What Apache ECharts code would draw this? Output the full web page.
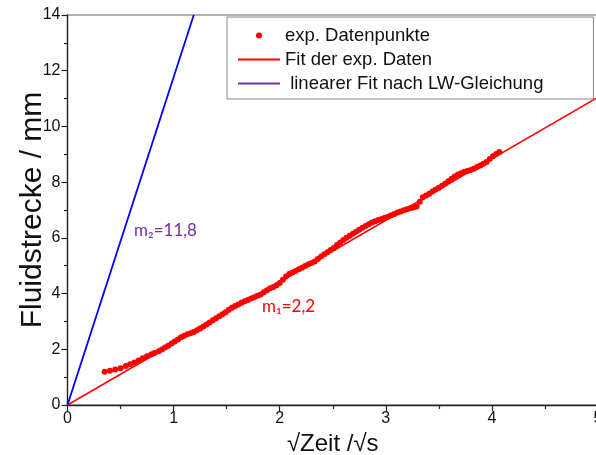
<!DOCTYPE html>
<html>
<head>
<meta charset="utf-8">
<script src="https://cdn.jsdelivr.net/npm/echarts@6/dist/echarts.min.js"></script>
<style>
  html, body { margin: 0; padding: 0; background: #fff; }
  #chart { width: 596px; height: 455px; }
</style>
</head>
<body>
<div id="chart"></div>
<script>
// measured points: sqrt(time) / sqrt(s) and fluid distance / mm
var zeitWurzel = [0.35, 0.40, 0.45, 0.50, 0.55, 0.59, 0.63, 0.67, 0.71, 0.75, 0.79, 0.82, 0.86, 0.89, 0.92, 0.95, 0.98,
  1.01, 1.04, 1.07, 1.10, 1.13, 1.16, 1.19, 1.22, 1.25, 1.28, 1.31, 1.34, 1.37, 1.40, 1.43, 1.46, 1.49,
  1.52, 1.55, 1.58, 1.61, 1.64, 1.67, 1.70, 1.73, 1.76, 1.79, 1.82, 1.85, 1.88, 1.91, 1.94, 1.97,
  2.00, 2.03, 2.06, 2.09, 2.12, 2.15, 2.18, 2.21, 2.24, 2.27, 2.30, 2.33, 2.36, 2.39, 2.42, 2.45, 2.48,
  2.51, 2.54, 2.57, 2.60, 2.63, 2.66, 2.69, 2.72, 2.75, 2.78, 2.81, 2.84, 2.87, 2.90, 2.93, 2.96, 2.99,
  3.02, 3.05, 3.08, 3.11, 3.14, 3.17, 3.20, 3.23, 3.26, 3.29, 3.32, 3.35, 3.38, 3.41, 3.44, 3.47,
  3.50, 3.53, 3.56, 3.59, 3.62, 3.65, 3.68, 3.71, 3.74, 3.77, 3.80, 3.83, 3.86, 3.89, 3.92, 3.95, 3.98,
  4.01, 4.04, 4.07];
var strecke = [1.19, 1.23, 1.27, 1.32, 1.40, 1.46, 1.53, 1.60, 1.68, 1.75, 1.82, 1.87, 1.93, 1.99, 2.06, 2.13, 2.21,
  2.28, 2.35, 2.43, 2.49, 2.54, 2.58, 2.62, 2.68, 2.75, 2.82, 2.89, 2.96, 3.04, 3.11, 3.19, 3.26, 3.33,
  3.42, 3.49, 3.55, 3.61, 3.67, 3.72, 3.77, 3.82, 3.87, 3.92, 3.97, 4.05, 4.12, 4.19, 4.24, 4.30,
  4.38, 4.50, 4.61, 4.70, 4.76, 4.81, 4.87, 4.93, 4.99, 5.05, 5.10, 5.15, 5.24, 5.33, 5.41, 5.48, 5.56,
  5.64, 5.74, 5.83, 5.92, 6.00, 6.08, 6.15, 6.22, 6.29, 6.36, 6.43, 6.49, 6.55, 6.60, 6.64, 6.68, 6.72,
  6.76, 6.81, 6.86, 6.91, 6.95, 6.99, 7.03, 7.06, 7.09, 7.13, 7.30, 7.46, 7.52, 7.58, 7.66, 7.74,
  7.80, 7.87, 7.94, 8.03, 8.12, 8.20, 8.27, 8.32, 8.37, 8.40, 8.44, 8.48, 8.54, 8.60, 8.66, 8.72, 8.83,
  8.93, 9.01, 9.08];

// fit lines (end points)
var fitX = [0, 5];
var fitY = [0, 11.05];
var lwX = [0, 1.19];
var lwY = [0, 14];

var nameData = 'exp. Datenpunkte';
var nameFit = 'Fit der exp. Daten';
var nameLW = ' linearer Fit nach LW-Gleichung';

function pairs(xs, ys) {
  var out = [];
  for (var i = 0; i < xs.length; i++) {
    out.push([xs[i], ys[i]]);
  }
  return out;
}

var chart = echarts.init(document.getElementById('chart'));
var font = '"Liberation Sans", Arial, sans-serif';

var option = {
  animation: false,
  backgroundColor: '#fff',
  grid: {
    left: 67.5,
    right: -2,
    top: 15,
    bottom: 50,
    outerBoundsMode: 'none',
    containLabel: false,
    show: true,
    borderColor: '#666',
    borderWidth: 1.2,
    backgroundColor: 'transparent'
  },
  legend: {
    orient: 'vertical',
    left: 227,
    top: 17,
    padding: [9, 50, 6, 10],
    itemWidth: 42,
    itemHeight: 6,
    itemGap: 5,
    backgroundColor: '#fff',
    borderColor: '#888',
    borderWidth: 1,
    textStyle: { fontFamily: font, fontSize: 18.5, color: '#111' },
    data: [
      { name: nameData },
      { name: nameFit, itemStyle: { opacity: 0 } },
      { name: nameLW, itemStyle: { opacity: 0 }, lineStyle: { color: '#7030A0' } }
    ]
  },
  xAxis: {
    type: 'value',
    min: 0,
    max: 5,
    interval: 1,
    name: '\u221AZeit /\u221As',
    nameLocation: 'middle',
    nameGap: 19,
    nameTextStyle: { fontFamily: font, fontSize: 24, color: '#111' },
    axisLine: { onZero: false, lineStyle: { color: '#222', width: 1.3 } },
    axisTick: { length: 6, lineStyle: { color: '#222', width: 1.2 } },
    minorTick: { show: true, splitNumber: 2, length: 4, lineStyle: { color: '#222', width: 1.2 } },
    splitLine: { show: false },
    axisLabel: { fontFamily: font, fontSize: 16, color: '#111', margin: 6 }
  },
  yAxis: {
    type: 'value',
    min: 0,
    max: 14,
    interval: 2,
    name: 'Fluidstrecke / mm',
    nameLocation: 'middle',
    nameMoveOverlap: false,
    nameGap: 20,
    nameTextStyle: { fontFamily: font, fontSize: 30, color: '#111' },
    axisLine: { onZero: false, lineStyle: { color: '#222', width: 1.3 } },
    axisTick: { length: 6, lineStyle: { color: '#222', width: 1.2 } },
    minorTick: { show: true, splitNumber: 2, length: 3.5, lineStyle: { color: '#222', width: 1.2 } },
    splitLine: { show: false },
    axisLabel: { fontFamily: font, fontSize: 16, color: '#111', margin: 7 }
  },
  series: [
    {
      name: nameFit,
      type: 'line',
      data: pairs(fitX, fitY),
      symbol: 'none',
      lineStyle: { color: '#ff0000', width: 1.5 },
      itemStyle: { color: '#ff0000' },
      z: 2
    },
    {
      name: nameLW,
      type: 'line',
      data: pairs(lwX, lwY),
      symbol: 'none',
      lineStyle: { color: '#0000ff', width: 1.8 },
      itemStyle: { color: '#0000ff' },
      z: 2
    },
    {
      name: nameData,
      type: 'scatter',
      data: pairs(zeitWurzel, strecke),
      symbol: 'circle',
      symbolSize: 6,
      itemStyle: { color: '#ff0000', opacity: 1 },
      z: 3
    }
  ],
  graphic: [
    {
      type: 'text',
      left: 134,
      top: 222,
      style: {
        text: 'm\u2082=11,8',
        fontFamily: 'Lato, "Noto Sans", sans-serif',
        fontSize: 17,
        fill: '#7030A0'
      }
    },
    {
      type: 'text',
      left: 262,
      top: 298,
      style: {
        text: 'm\u2081=2,2',
        fontFamily: 'Lato, "Noto Sans", sans-serif',
        fontSize: 17,
        fill: '#ff0000'
      }
    }
  ]
};

chart.setOption(option);
window.addEventListener('resize', chart.resize);
</script>
</body>
</html>
